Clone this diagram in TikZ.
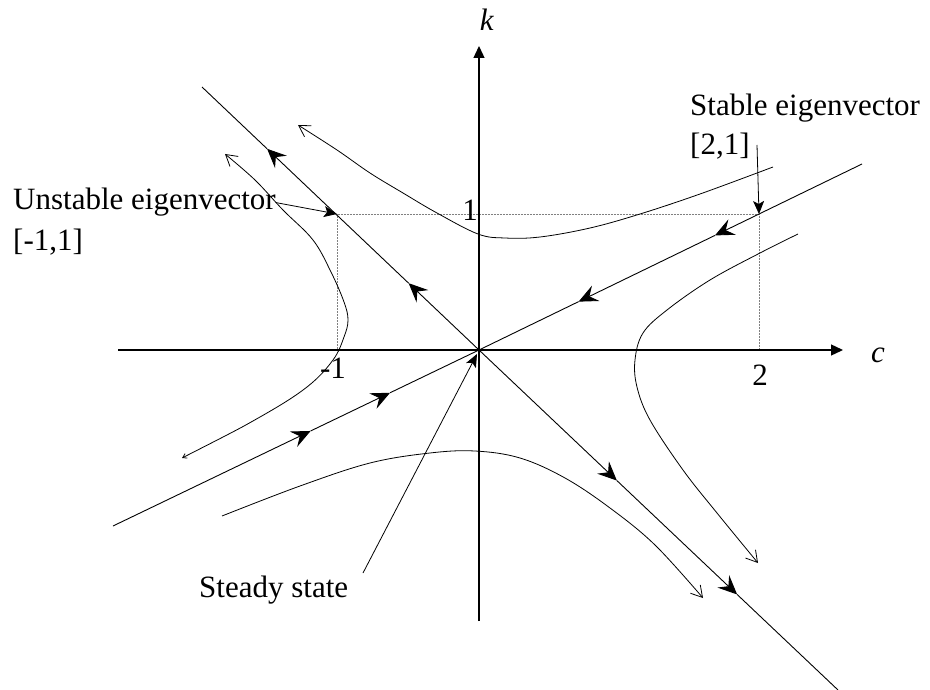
\documentclass[tikz,border=0pt]{standalone}
\usepackage{fontspec}
\setmainfont{Liberation Serif}
\usetikzlibrary{arrows.meta,calc}

\begin{document}
\begin{tikzpicture}[x=1pt,y=-1pt,line join=round,
  lbl/.style={inner sep=0pt,font=\fontsize{31}{36}\selectfont},
  axis/.style={line width=1.3pt,-{Triangle[length=12pt,width=11pt]}},
  flow/.style={line width=0.9pt,-{Stealth[length=19pt,width=17pt,inset=7pt]}},
  traj/.style={line width=0.8pt,-{Straight Barb[length=11pt,width=13pt]}},
  pointer/.style={line width=0.8pt,-{Stealth[length=13pt,width=11pt,inset=3pt]}},
  guide/.style={densely dotted,line width=0.5pt,gray}]
  % Match the artwork frame.
  \useasboundingbox (0,0) rectangle (930,690);

  % Steady state and axis ends.
  \coordinate (O) at (479,350);
  \coordinate (cL) at (118,350);
  \coordinate (cR) at (843,350);
  \coordinate (kB) at (479,621);
  \coordinate (kT) at (479,46);

  % Points c=-1, c=2 and k=1 on the eigenvectors.
  \coordinate (pU) at (337,214);
  \coordinate (pS) at (759,214);
  \coordinate (pUc) at (337,350);
  \coordinate (pSc) at (759,350);

  % Ends of the two eigenvector lines.
  \coordinate (sTR) at (862,164);
  \coordinate (sBL) at (113,526);
  \coordinate (uTL) at (202,87);
  \coordinate (uBR) at (838,690);

  % Arrow marks along the eigenvector lines.
  \coordinate (ua1) at ($(O)!0.254!(uTL)$);
  \coordinate (ua2) at ($(O)!0.765!(uTL)$);
  \coordinate (ub1) at ($(O)!0.384!(uBR)$);
  \coordinate (ub2) at ($(O)!0.719!(uBR)$);
  \coordinate (sa1) at ($(O)!0.26!(sTR)$);
  \coordinate (sa2) at ($(O)!0.616!(sTR)$);
  \coordinate (sb1) at ($(O)!0.243!(sBL)$);
  \coordinate (sb2) at ($(O)!0.46!(sBL)$);

  % Guide lines.
  \draw[guide] (pUc) -- (pU) -- (pS) -- (pSc);

  % Axes.
  \draw[axis] (cL) -- (cR);
  \draw[axis] (kB) -- (kT);

  % Unstable eigenvector, pointing away from the steady state.
  \draw[flow] (O) -- (ua1);
  \draw[flow] (ua1) -- (ua2);
  \draw[line width=0.9pt] (ua2) -- (uTL);
  \draw[flow] (O) -- (ub1);
  \draw[flow] (ub1) -- (ub2);
  \draw[line width=0.9pt] (ub2) -- (uBR);

  % Stable eigenvector, pointing towards the steady state.
  \draw[flow] (sTR) -- (sa2);
  \draw[flow] (sa2) -- (sa1);
  \draw[line width=0.9pt] (sa1) -- (O);
  \draw[flow] (sBL) -- (sb2);
  \draw[flow] (sb2) -- (sb1);
  \draw[line width=0.9pt] (sb1) -- (O);

  % Saddle trajectories.
  \draw[traj] plot[smooth,tension=0.6] coordinates {(773,167) (700,194) (640,214)
    (590,228) (540,237) (505,238) (478,234) (437,213) (403,193) (370,173)
    (337,150) (298,125)};
  \draw[line width=0.8pt,{Straight Barb[length=4pt,width=5pt]}-{Straight Barb[length=11pt,width=13pt]}]
    plot[smooth,tension=0.6] coordinates {(182,458) (260,417) (307,387) (333,360)
    (344,337) (348,320) (344,302) (331,272) (313,240) (283,210) (255,180) (225,154)};
  \draw[traj] plot[smooth,tension=0.6] coordinates {(222,516) (300,486) (370,463)
    (430,453) (475,451) (520,458) (565,478) (610,508) (655,545) (703,598)};
  \draw[traj] plot[smooth,tension=0.6] coordinates {(798,234) (760,253) (710,280)
    (667,310) (643,333) (635,360) (637,387) (650,420) (683,470) (717,513) (758,563)};

  % Axis and tick labels.
  \node[lbl,anchor=base] (klab) at (487,31) {\textit{k}};
  \node[lbl,anchor=base] (clab) at (878,362) {\textit{c}};
  \node[lbl,anchor=base] (one) at (470,221) {1};
  \node[lbl,anchor=base] (mone) at (333,378) {-1};
  \node[lbl,anchor=base] (two) at (760,385) {2};

  % Annotations.
  \node[lbl,anchor=base west] (stabtxt) at (690,116) {Stable eigenvector};
  \node[lbl,anchor=base west] (stabvec) at (690,155) {[2,1]};
  \node[lbl,anchor=base west] (unsttxt) at (13,210) {Unstable eigenvector};
  \node[lbl,anchor=base west] (unstvec) at (13,251) {[-1,1]};
  \node[lbl,anchor=base west] (sstxt) at (199,597) {Steady state};

  \coordinate (stabfrom) at (757,145);
  \coordinate (ssfrom) at (363,573);
  \coordinate (sstip) at (477,354);
  \draw[pointer] (stabfrom) -- (pS);
  \draw[pointer] (unsttxt.east) -- (pU);
  \draw[pointer] (ssfrom) -- (sstip);
\end{tikzpicture}
\end{document}
